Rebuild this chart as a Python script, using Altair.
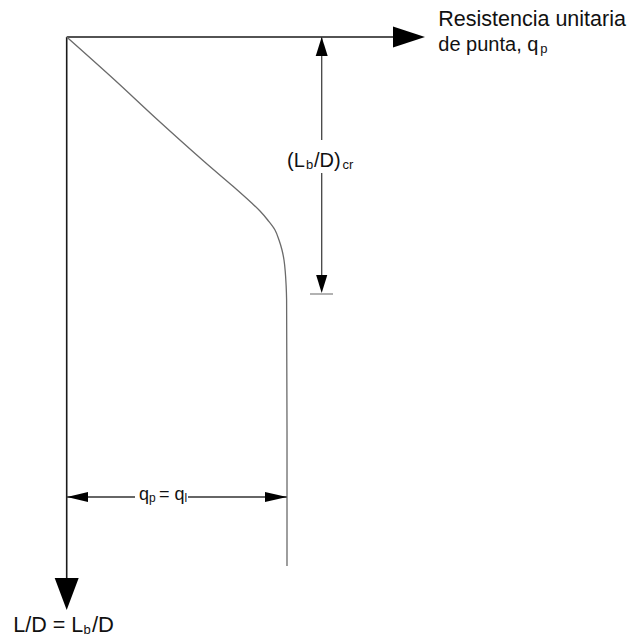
import altair as alt
import pandas as pd

# ---- data (schematic units: origin at the axes' corner, depth positive downward) ----
# unit tip resistance q_p vs. embedment ratio L/D
curve_q = [0, 48, 90, 138, 166, 185, 193.3, 201, 208.3, 212.3, 215.3, 217.3, 218.5, 219.4, 219.9, 220.3]
curve_ld = [0, 43, 82, 125, 149, 166, 174, 183, 193, 203, 213, 223, 234, 248, 263, 529]
q_limit = 220.3          # q_p = q_l
ld_critical = 256        # (L_b/D)_cr

label_texts = ["Resistencia unitaria", "de punta, q", "p",
               "(L", "b", "/D)", "cr",
               "q", "p", "=", "q", "l",
               "L/D = L", "b", "/D"]

# ---- layout (positions in the same plot units) ----
label_x = [371.6, 371.6, 473.6,
           220.3, 239.3, 247.3, 275.8,
           72.3, 82.3, 92.3, 107.8, 117.8,
           -53.4, 16.8, 25.3]
label_y = [-11.5, 14, 16,
           130, 132, 130, 132,
           463, 465, 463, 463, 465,
           594.5, 596.5, 594.5]
label_size = [21.5, 20, 13,
              20, 13, 20, 13,
              18, 12, 18, 18, 12,
              21.5, 13, 22]

curve_df = pd.DataFrame({"x": curve_q, "y": curve_ld, "i": range(len(curve_q))})

seg_df = pd.DataFrame({
    "x":  [0, 0, q_limit + 34.7, q_limit + 34.7, q_limit + 23, 0, 121.3],
    "y":  [0, 0, 0, 136, ld_critical + 1, 460, 460],
    "x2": [340, 0, q_limit + 34.7, q_limit + 34.7, q_limit + 46, 68.3, q_limit],
    "y2": [0, 545, 103, ld_critical - 6, ld_critical + 1, 460, 460],
    "c":  ["#1a1a1a", "#1a1a1a", "#444444", "#444444", "#999999", "#333333", "#333333"],
    "w":  [1.6, 1.6, 1.3, 1.3, 1.5, 1.3, 1.3],
})


def arrow_path(ratio):
    return f"M1,0L-1,{-ratio}L-1,{ratio}Z"


arrow_df = pd.DataFrame({
    "x": [342.3, 0, q_limit + 34.7, q_limit + 34.7, 10.8, q_limit - 11],
    "y": [0, 557, 9.5, ld_critical - 9, 460, 460],
    "angle": [0, 90, 270, 90, 180, 0],
    "size": [32 ** 2, 32 ** 2, 19 ** 2, 18 ** 2, 21 ** 2, 22 ** 2],
    "shape": [arrow_path(0.66), arrow_path(0.75), arrow_path(0.63),
              arrow_path(0.62), arrow_path(0.48), arrow_path(0.46)],
})

text_df = pd.DataFrame({"t": label_texts, "x": label_x, "y": label_y, "size": label_size})

xs = alt.Scale(domain=[-58.7, 563.3], nice=False, zero=False)
ys = alt.Scale(domain=[-29, 599], nice=False, zero=False, reverse=True)

curve = alt.Chart(curve_df).mark_line(
    color="#6a6a6a", strokeWidth=1.3, interpolate="catmull-rom"
).encode(
    x=alt.X("x:Q", scale=xs, axis=None),
    y=alt.Y("y:Q", scale=ys, axis=None),
    order="i:Q",
)

segs = alt.Chart(seg_df).mark_rule().encode(
    x=alt.X("x:Q", scale=xs, axis=None),
    y=alt.Y("y:Q", scale=ys, axis=None),
    x2="x2:Q",
    y2="y2:Q",
    color=alt.Color("c:N", scale=None),
    strokeWidth=alt.StrokeWidth("w:Q", scale=None),
)

arrows = alt.Chart(arrow_df).mark_point(filled=True, opacity=1, color="#000000", strokeWidth=0).encode(
    x=alt.X("x:Q", scale=xs, axis=None),
    y=alt.Y("y:Q", scale=ys, axis=None),
    angle=alt.Angle("angle:Q", scale=None),
    size=alt.Size("size:Q", scale=None),
    shape=alt.Shape("shape:N", scale=None),
)

texts = alt.Chart(text_df).mark_text(
    align="left", baseline="alphabetic", font="Liberation Sans", color="#111111"
).encode(
    x=alt.X("x:Q", scale=xs, axis=None),
    y=alt.Y("y:Q", scale=ys, axis=None),
    text="t:N",
    size=alt.Size("size:Q", scale=None),
)

chart = alt.layer(segs, curve, arrows, texts).properties(
    width=622, height=628, padding=0, autosize="none"
).configure_view(stroke=None)

chart.save("out.html", embed_options={"renderer": "svg", "actions": False})
